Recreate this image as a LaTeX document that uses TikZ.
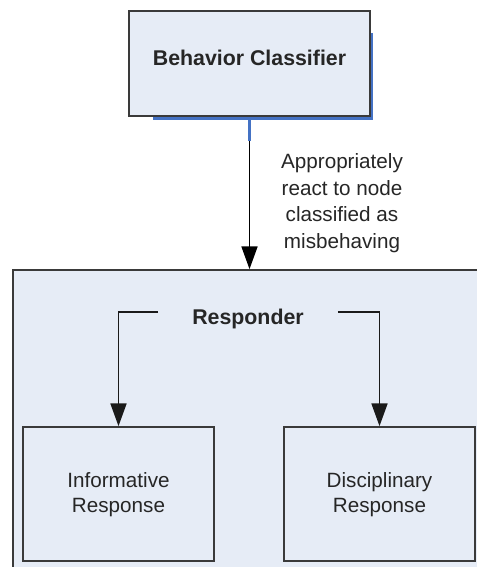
\documentclass[tikz,border=0pt]{standalone}
\usepackage{fontspec}
\setmainfont{Liberation Sans}
\usetikzlibrary{arrows.meta}
\definecolor{boxfill}{HTML}{E6ECF6}
\definecolor{boxline}{HTML}{3A3A3A}
\definecolor{shadowblue}{HTML}{4472C4}
\definecolor{brk}{HTML}{1A1A1A}
\tikzset{
  box/.style={draw=boxline, fill=boxfill, line width=1.3pt, inner sep=0pt, align=center,
    font=\fontsize{15.5}{18.75}\selectfont, text=black!85},
  arr/.style={line width=1.2pt, -{Triangle[length=17pt,width=12pt]}},
  bold/.style={font=\fontsize{16}{19}\selectfont\bfseries, inner sep=0pt, text=black!85},
}
\begin{document}
\begin{tikzpicture}[x=0.75pt,y=-0.75pt]
\useasboundingbox (0,0) rectangle (477,567);
\clip (0,0) rectangle (477,567);
\fill[white] (0,0) rectangle (477,567);
% outer responder box (runs off the right and bottom)
\node[box, minimum width=359.25pt, minimum height=247.5pt] (outer) at (252.5,435) {};
% behavior classifier
\draw[shadowblue, line width=1.6pt] (372,33) -- (372,118.5) -- (153,118.5);
\node[box, line width=1.6pt, minimum width=180.75pt, minimum height=78.75pt, text depth=8pt,
  font=\fontsize{16}{19}\selectfont\bfseries] (bc) at (249.5,63.5) {Behavior Classifier};
% connector
\draw[arr] (bc.south) -- (bc.south |- outer.north);
\draw[shadowblue, line width=1.6pt] (bc.south) -- ++(0,24);
\node[align=center, font=\fontsize{15.5}{20}\selectfont, text=black!85] (lab) at (342,203)
  {Appropriately\\react to node\\classified as\\misbehaving};
% responder
\node[bold] (resp) at (248,319) {Responder};
\node[box, minimum width=143.25pt, minimum height=100.5pt, text depth=2pt] (inf) at (118.5,494) {Informative\\Response};
\node[box, minimum width=143.25pt, minimum height=100.5pt, text depth=2pt] (dis) at (379.5,494) {Disciplinary\\Response};
\draw[arr, draw=brk] ([xshift=-25.5pt, yshift=5.25pt]resp.west) -| (inf.north);
\draw[arr, draw=brk] ([xshift=25.5pt, yshift=5.25pt]resp.east) -| (dis.north);
\end{tikzpicture}
\end{document}
